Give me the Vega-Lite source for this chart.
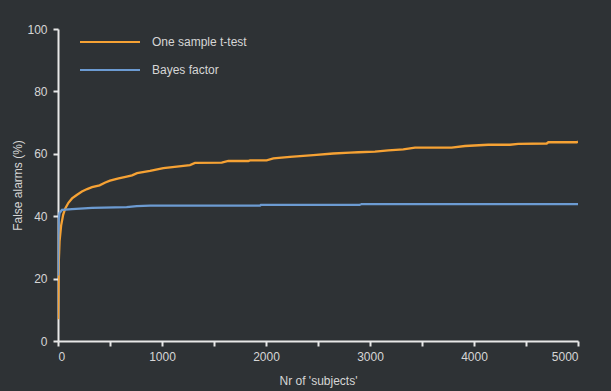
{
  "$schema": "https://vega.github.io/schema/vega-lite/v6.json",
  "width": 520,
  "height": 312,
  "autosize": {"type": "none"},
  "padding": {"left": 58, "top": 29, "right": 33, "bottom": 50},
  "background": "#2e3235",
  "config": {
    "view": {"stroke": null},
    "font": "Liberation Sans",
    "axis": {
      "domainColor": "#e8e8e8",
      "domainWidth": 2,
      "tickColor": "#e8e8e8",
      "tickWidth": 2,
      "tickSize": 5,
      "labelColor": "#d6d6d6",
      "labelFontSize": 12,
      "titleColor": "#d6d6d6",
      "titleFontSize": 12,
      "titleFontWeight": "normal",
      "grid": false
    }
  },
  "datasets": {
    "curves": [
      {"n": 0, "rate": 7, "test": "One sample t-test"},
      {"n": 3, "rate": 15, "test": "One sample t-test"},
      {"n": 7, "rate": 25, "test": "One sample t-test"},
      {"n": 15, "rate": 32, "test": "One sample t-test"},
      {"n": 30, "rate": 37, "test": "One sample t-test"},
      {"n": 50, "rate": 40.5, "test": "One sample t-test"},
      {"n": 70, "rate": 42.5, "test": "One sample t-test"},
      {"n": 100, "rate": 44.3, "test": "One sample t-test"},
      {"n": 135, "rate": 45.7, "test": "One sample t-test"},
      {"n": 180, "rate": 46.8, "test": "One sample t-test"},
      {"n": 230, "rate": 47.9, "test": "One sample t-test"},
      {"n": 280, "rate": 48.7, "test": "One sample t-test"},
      {"n": 327, "rate": 49.3, "test": "One sample t-test"},
      {"n": 400, "rate": 49.9, "test": "One sample t-test"},
      {"n": 455, "rate": 50.8, "test": "One sample t-test"},
      {"n": 500, "rate": 51.4, "test": "One sample t-test"},
      {"n": 583, "rate": 52.1, "test": "One sample t-test"},
      {"n": 650, "rate": 52.6, "test": "One sample t-test"},
      {"n": 712, "rate": 53.1, "test": "One sample t-test"},
      {"n": 760, "rate": 53.8, "test": "One sample t-test"},
      {"n": 885, "rate": 54.5, "test": "One sample t-test"},
      {"n": 1013, "rate": 55.4, "test": "One sample t-test"},
      {"n": 1100, "rate": 55.7, "test": "One sample t-test"},
      {"n": 1269, "rate": 56.4, "test": "One sample t-test"},
      {"n": 1317, "rate": 57.1, "test": "One sample t-test"},
      {"n": 1574, "rate": 57.2, "test": "One sample t-test"},
      {"n": 1638, "rate": 57.7, "test": "One sample t-test"},
      {"n": 1830, "rate": 57.7, "test": "One sample t-test"},
      {"n": 1846, "rate": 57.9, "test": "One sample t-test"},
      {"n": 2006, "rate": 57.9, "test": "One sample t-test"},
      {"n": 2071, "rate": 58.5, "test": "One sample t-test"},
      {"n": 2231, "rate": 59.0, "test": "One sample t-test"},
      {"n": 2455, "rate": 59.6, "test": "One sample t-test"},
      {"n": 2647, "rate": 60.1, "test": "One sample t-test"},
      {"n": 2808, "rate": 60.4, "test": "One sample t-test"},
      {"n": 2888, "rate": 60.5, "test": "One sample t-test"},
      {"n": 3048, "rate": 60.7, "test": "One sample t-test"},
      {"n": 3176, "rate": 61.1, "test": "One sample t-test"},
      {"n": 3320, "rate": 61.4, "test": "One sample t-test"},
      {"n": 3433, "rate": 62.0, "test": "One sample t-test"},
      {"n": 3785, "rate": 62.0, "test": "One sample t-test"},
      {"n": 3914, "rate": 62.5, "test": "One sample t-test"},
      {"n": 4137, "rate": 62.9, "test": "One sample t-test"},
      {"n": 4346, "rate": 62.9, "test": "One sample t-test"},
      {"n": 4426, "rate": 63.2, "test": "One sample t-test"},
      {"n": 4699, "rate": 63.3, "test": "One sample t-test"},
      {"n": 4715, "rate": 63.7, "test": "One sample t-test"},
      {"n": 4987, "rate": 63.7, "test": "One sample t-test"},
      {"n": 5000, "rate": 63.9, "test": "One sample t-test"},
      {"n": 0, "rate": 21, "test": "Bayes factor"},
      {"n": 3, "rate": 32, "test": "Bayes factor"},
      {"n": 6, "rate": 39, "test": "Bayes factor"},
      {"n": 15, "rate": 41, "test": "Bayes factor"},
      {"n": 38, "rate": 42, "test": "Bayes factor"},
      {"n": 135, "rate": 42.3, "test": "Bayes factor"},
      {"n": 327, "rate": 42.7, "test": "Bayes factor"},
      {"n": 660, "rate": 42.9, "test": "Bayes factor"},
      {"n": 757, "rate": 43.2, "test": "Bayes factor"},
      {"n": 885, "rate": 43.4, "test": "Bayes factor"},
      {"n": 1942, "rate": 43.4, "test": "Bayes factor"},
      {"n": 1950, "rate": 43.6, "test": "Bayes factor"},
      {"n": 2900, "rate": 43.6, "test": "Bayes factor"},
      {"n": 2920, "rate": 43.9, "test": "Bayes factor"},
      {"n": 5000, "rate": 43.9, "test": "Bayes factor"}
    ]
  },
  "data": {"name": "curves"},
  "mark": {"type": "line", "strokeWidth": 2.3, "clip": true},
  "encoding": {
    "x": {
      "field": "n",
      "type": "quantitative",
      "scale": {"domain": [0, 5000], "nice": false},
      "axis": {
        "title": "Nr of 'subjects'",
        "values": [0, 500, 1000, 1500, 2000, 2500, 3000, 3500, 4000, 4500, 5000],
        "labelExpr": "datum.value % 1000 === 0 ? format(datum.value, 'd') : ''",
        "labelPadding": 5,
        "titlePadding": 13
      }
    },
    "y": {
      "field": "rate",
      "type": "quantitative",
      "scale": {"domain": [0, 100], "nice": false},
      "axis": {
        "title": "False alarms (%)",
        "values": [0, 20, 40, 60, 80, 100],
        "labelPadding": 6,
        "titlePadding": 2
      }
    },
    "color": {
      "field": "test",
      "type": "nominal",
      "scale": {"domain": ["One sample t-test", "Bayes factor"], "range": ["#f6a234", "#6c9bd2"]},
      "legend": {
        "title": null,
        "orient": "none",
        "legendX": 36,
        "legendY": -3,
        "symbolType": "M-2,0H2",
        "symbolSize": 900,
        "symbolStrokeWidth": 2,
        "labelColor": "#d6d6d6",
        "labelFontSize": 12,
        "labelOffset": 26,
        "rowPadding": 6
      }
    }
  }
}
